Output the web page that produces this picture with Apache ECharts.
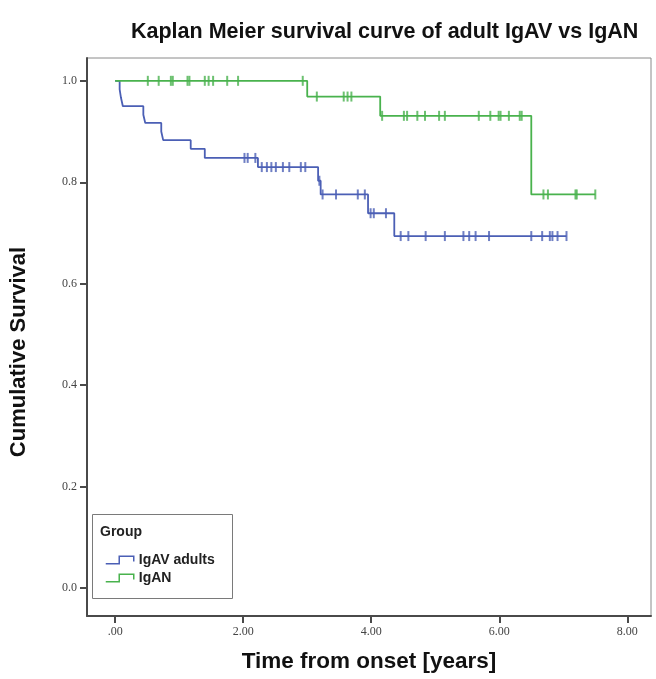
<!DOCTYPE html>
<html>
<head>
<meta charset="utf-8">
<script src="https://cdn.jsdelivr.net/npm/echarts@6/dist/echarts.min.js"></script>
<style>
html,body{margin:0;padding:0;background:#fff;}
#chart{width:656px;height:679px;}
</style>
</head>
<body>
<div id="chart"></div>
<script>
// ---- data ----
var seriesNames = ['IgAV adults', 'IgAN'];
// event (step) times and survival after each step
var igavTimes = [0, 0.07, 0.09, 0.12, 0.44, 0.47, 0.72, 0.75, 1.18, 1.40, 2.23, 3.17, 3.21, 3.95, 4.36, 7.05];
var igavSurv  = [1, 0.983, 0.967, 0.950, 0.933, 0.917, 0.900, 0.883, 0.866, 0.848, 0.830, 0.803, 0.776, 0.739, 0.694, 0.694];
var igavCensored = [2.02, 2.07, 2.19, 2.29, 2.37, 2.44, 2.51, 2.62, 2.72, 2.90, 2.97, 3.19, 3.24, 3.45, 3.79, 3.90,
                    3.99, 4.04, 4.23, 4.46, 4.58, 4.85, 5.15, 5.44, 5.53, 5.63, 5.84, 6.50, 6.67, 6.79, 6.83, 6.91, 7.05];
var iganTimes = [0, 3.00, 4.14, 6.50, 7.50];
var iganSurv  = [1, 0.969, 0.931, 0.776, 0.776];
var iganCensored = [0.51, 0.68, 0.87, 0.90, 1.13, 1.16, 1.40, 1.46, 1.53, 1.75, 1.92, 2.93, 3.15, 3.57, 3.63, 3.69,
                    4.17, 4.51, 4.56, 4.72, 4.84, 5.06, 5.15, 5.68, 5.86, 5.99, 6.02, 6.15, 6.32, 6.35, 6.69, 6.76,
                    7.19, 7.21, 7.50];
var xTickValues = [0, 2, 4, 6, 8];
var xTickLabels = ['.00', '2.00', '4.00', '6.00', '8.00'];
var yTickValues = [0, 0.2, 0.4, 0.6, 0.8, 1.0];
var yTickLabels = ['0.0', '0.2', '0.4', '0.6', '0.8', '1.0'];

// ---- helpers ----
function pairs(xs, ys) { return xs.map(function (x, i) { return [x, ys[i]]; }); }
function survAt(times, surv, t) {
  var s = surv[0];
  for (var i = 0; i < times.length; i++) { if (times[i] <= t) s = surv[i]; }
  return s;
}
function censorPts(cs, times, surv) { return cs.map(function (t) { return [t, survAt(times, surv, t)]; }); }

var blue = '#4b5fb5';
var green = '#49b24d';
var iconPath = 'path://M0,7 L13,7 L13,0 L27,0 L27,5';
var sans = 'Liberation Sans, Arial, sans-serif';
var serif = 'Liberation Serif, Times New Roman, serif';

var chart = echarts.init(document.getElementById('chart'), null, {renderer: 'canvas'});
chart.setOption({
  animation: false,
  backgroundColor: '#fff',
  title: {
    text: 'Kaplan Meier survival curve of adult IgAV vs IgAN',
    left: 126, top: 16,
    textStyle: {fontFamily: sans, fontSize: 21.5, fontWeight: 'bold', color: '#111'}
  },
  grid: {left: 85, right: 5, top: 58, bottom: 63, show: true, borderColor: '#8a8a8a', borderWidth: 1},
  xAxis: {
    type: 'value', min: -0.44, max: 8.37,
    name: 'Time from onset [years]', nameLocation: 'middle', nameGap: 34,
    nameTextStyle: {fontFamily: sans, fontSize: 22.5, fontWeight: 'bold', color: '#111'},
    axisLine: {onZero: false, lineStyle: {color: '#4a4a4a', width: 2}},
    axisTick: {customValues: xTickValues, length: 7, lineStyle: {color: '#4a4a4a', width: 2}},
    axisLabel: {customValues: xTickValues, margin: 10, fontFamily: serif, fontSize: 12, color: '#444',
      formatter: function (v) { return xTickLabels[xTickValues.indexOf(v)]; }},
    splitLine: {show: false}
  },
  yAxis: {
    type: 'value', min: -0.055, max: 1.045,
    name: 'Cumulative Survival', nameLocation: 'middle', nameGap: 57,
    nameTextStyle: {fontFamily: sans, fontSize: 22, fontWeight: 'bold', color: '#111', padding: [0, 30, 0, 0]},
    axisLine: {show: true, onZero: false, lineStyle: {color: '#4a4a4a', width: 2}},
    axisTick: {show: true, customValues: yTickValues, length: 7, lineStyle: {color: '#4a4a4a', width: 2}},
    axisLabel: {customValues: yTickValues, margin: 10, fontFamily: serif, fontSize: 12, color: '#444',
      formatter: function (v) { return yTickLabels[Math.round(v * 5)]; }},
    splitLine: {show: false}
  },
  legend: {
    orient: 'vertical', left: 105, top: 553, padding: 0,
    itemWidth: 28, itemHeight: 8, itemGap: 4,
    textStyle: {fontFamily: sans, fontSize: 14, fontWeight: 'bold', color: '#222', lineHeight: 14},
    data: [
      {name: seriesNames[0], icon: iconPath, itemStyle: {color: 'transparent', borderColor: blue, borderWidth: 1.5}},
      {name: seriesNames[1], icon: iconPath, itemStyle: {color: 'transparent', borderColor: green, borderWidth: 1.5}}
    ]
  },
  graphic: [
    {type: 'rect', z: 0, shape: {x: 92.5, y: 514.5, width: 140, height: 84},
      style: {fill: '#fff', stroke: '#7a7a7a', lineWidth: 1}},
    {type: 'text', z: 1, x: 100, y: 532,
      style: {text: 'Group', fontFamily: sans, fontSize: 14, fontWeight: 'bold', fill: '#222', verticalAlign: 'middle'}}
  ],
  series: [
    {name: seriesNames[0], type: 'line', step: 'end', showSymbol: false, symbol: 'none',
      data: pairs(igavTimes, igavSurv), lineStyle: {color: blue, width: 1.8}, itemStyle: {color: blue}},
    {name: seriesNames[1], type: 'line', step: 'end', showSymbol: false, symbol: 'none',
      data: pairs(iganTimes, iganSurv), lineStyle: {color: green, width: 1.8}, itemStyle: {color: green}},
    {name: 'IgAV censored', type: 'scatter', symbol: 'rect', symbolSize: [2, 10],
      data: censorPts(igavCensored, igavTimes, igavSurv), itemStyle: {color: blue}},
    {name: 'IgAN censored', type: 'scatter', symbol: 'rect', symbolSize: [2, 10],
      data: censorPts(iganCensored, iganTimes, iganSurv), itemStyle: {color: green}}
  ]
});
</script>
</body>
</html>
